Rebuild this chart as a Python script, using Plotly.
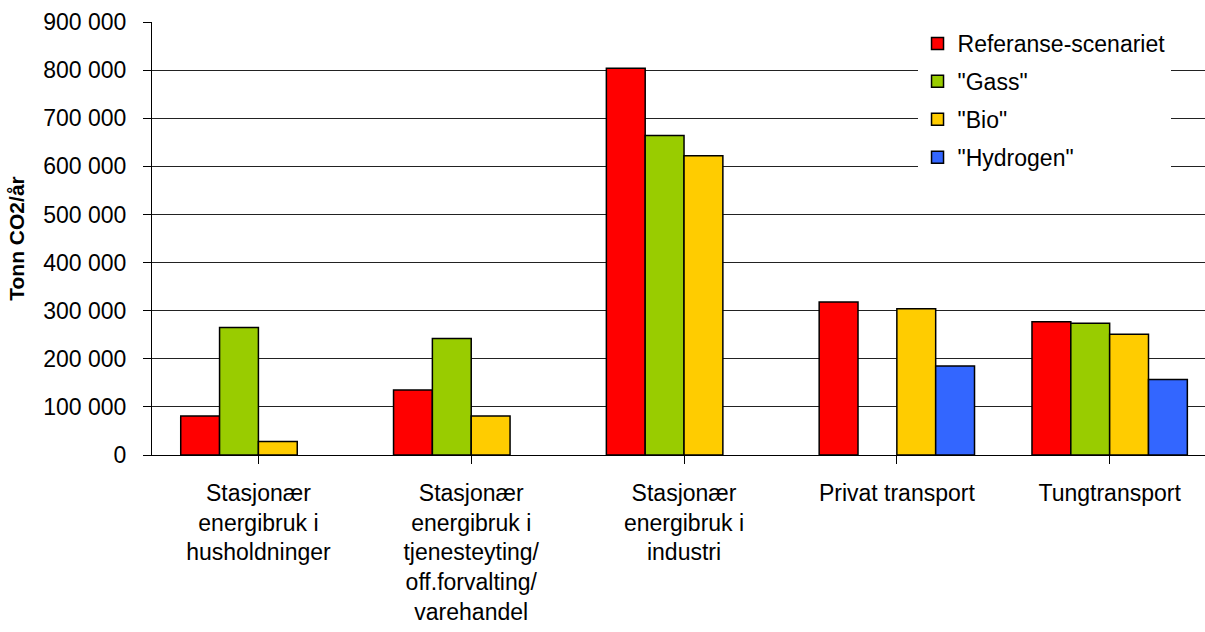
import plotly.graph_objects as go

categories = [
    "Stasjonær<br>energibruk i<br>husholdninger",
    "Stasjonær<br>energibruk i<br>tjenesteyting/<br>off.forvalting/<br>varehandel",
    "Stasjonær<br>energibruk i<br>industri",
    "Privat transport",
    "Tungtransport",
]
series_names = ['Referanse-scenariet', '"Gass"', '"Bio"', '"Hydrogen"']
referanse = [81000, 135000, 804000, 318000, 277000]
gass = [265000, 242000, 664000, None, 274000]
bio = [28000, 81000, 622000, 304000, 251000]
hydrogen = [None, None, None, 185000, 157000]
colors = ["#FF0000", "#99CC00", "#FFCC00", "#3366FF"]
y_ticks = [0, 100000, 200000, 300000, 400000, 500000, 600000, 700000, 800000, 900000]
y_title = "Tonn CO2/år"

FONT = "Arial, Liberation Sans, sans-serif"
x_idx = list(range(len(categories)))

fig = go.Figure()
for i, (name, vals) in enumerate(zip(series_names, [referanse, gass, bio, hydrogen])):
    fig.add_trace(go.Bar(
        x=x_idx, y=vals, name=name, legendgroup=str(i),
        marker=dict(color=colors[i], line=dict(color="black", width=1.5)),
    ))

fig.update_layout(
    width=1205, height=632,
    margin=dict(l=152, r=0, t=22, b=177),
    paper_bgcolor="white", plot_bgcolor="white",
    barmode="group", bargap=0.27, bargroupgap=0,
    separators=", ",
    font=dict(family=FONT, size=23, color="black"),
    legend=dict(
        x=0.727, y=1.0, xanchor="left", yanchor="top",
        bgcolor="white", borderwidth=0,
        font=dict(family=FONT, size=23, color="black"),
        traceorder="grouped", tracegroupgap=5,
    ),
    showlegend=True,
)
fig.update_xaxes(
    tickvals=x_idx, ticktext=categories,
    range=[-0.5, 4.448],
    showline=True, linecolor="black", linewidth=1,
    ticks="outside", tickson="boundaries", ticklen=8, tickcolor="black",
    showgrid=False, zeroline=False,
    ticklabelstandoff=9,
    tickfont=dict(family=FONT, size=23),
)
fig.update_yaxes(
    range=[0, 900000], tickvals=y_ticks, tickformat=",d",
    showline=True, linecolor="black", linewidth=1,
    ticks="outside", ticklen=8, tickcolor="black",
    showgrid=True, gridcolor="#222222", gridwidth=1,
    zeroline=False,
    ticklabelstandoff=12,
    tickfont=dict(family=FONT, size=23),
    title=dict(text="<b>" + y_title + "</b>", font=dict(family=FONT, size=21), standoff=12),
)

fig.write_html("out.html")
